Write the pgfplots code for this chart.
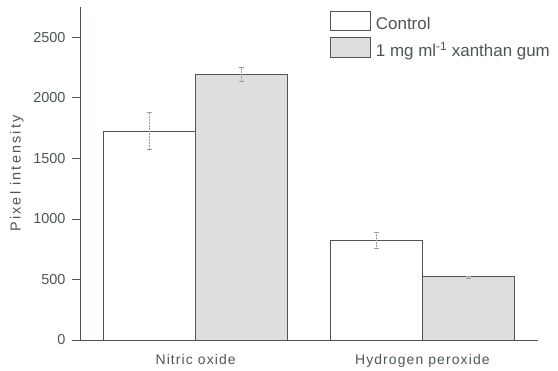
\documentclass[border=0pt]{standalone}
\usepackage{fontspec}
\setmainfont{Liberation Sans}
\usepackage{pgfplots}
\pgfplotsset{compat=1.18}

\definecolor{inkgray}{rgb}{0.30,0.34,0.31}
\definecolor{fillgray}{rgb}{0.87,0.87,0.87}
\definecolor{errgray}{rgb}{0.62,0.62,0.62}

\begin{document}
\begin{tikzpicture}
\begin{axis}[
  scale only axis,
  width=458bp, height=333bp,
  xmin=-0.51, xmax=1.51,
  ymin=0, ymax=2750,
  axis x line=bottom, axis y line=left,
  axis line style={inkgray, line width=0.9pt, -},
  xtick={0,1},
  xticklabels={Nitric oxide, Hydrogen peroxide},
  x tick style={draw=none},
  xticklabel style={font=\fontsize{14}{16}\selectfont\addfontfeatures{LetterSpace=8}, text=inkgray, yshift=-3bp},
  ytick={0,500,1000,1500,2000,2500},
  y tick style={inkgray, line width=0.7pt},
  tick align=outside,
  major tick length=8bp,
  yticklabel style={font=\fontsize{14.5}{16}\selectfont, text=inkgray, xshift=-3bp},
  /pgf/number format/assume math mode=true,
  scaled y ticks=false,
  yticklabel style={/pgf/number format/1000 sep={}},
  ylabel={Pixel intensity},
  ylabel style={font=\fontsize{14.5}{16}\selectfont\addfontfeatures{LetterSpace=15}, text=inkgray, yshift=3bp},
  ybar=0pt,
  bar width=92bp,
  legend style={
    at={(0.546,0.99)}, anchor=north west, draw=none, fill=none,
    font=\fontsize{17}{19}\selectfont, text=inkgray,
    row sep=5bp, column sep=4bp, inner sep=0pt,
    nodes={inner sep=1bp, text depth=0.2em},
  },
  legend cell align=left,
  legend image code/.code={\draw[#1] (0bp,-6.5bp) rectangle (40bp,13bp);},
]
\addplot[draw=inkgray, fill=white, line width=0.7pt,
  error bars/.cd, y dir=both, y explicit,
  error bar style={errgray, line width=0.5pt, densely dotted},
  error mark options={rotate=90, mark size=2.5bp, errgray, solid}]
  coordinates {(0,1725) +- (0,153) (1,825) +- (0,68)};
\addlegendentry{Control}
\addplot[draw=inkgray, fill=fillgray, line width=0.7pt,
  error bars/.cd, y dir=both, y explicit,
  error bar style={errgray, line width=0.5pt, densely dotted},
  error mark options={rotate=90, mark size=2.5bp, errgray, solid}]
  coordinates {(0,2195) +- (0,57) (1,522) +- (0,8)};
\addlegendentry{1 mg ml\textsuperscript{-1} xanthan gum}
\end{axis}
% margins around the plot area
\path ([xshift=-80bp,yshift=-31bp]current axis.south west)
  rectangle ([xshift=20bp,yshift=7bp]current axis.north east);
\end{tikzpicture}
\end{document}
